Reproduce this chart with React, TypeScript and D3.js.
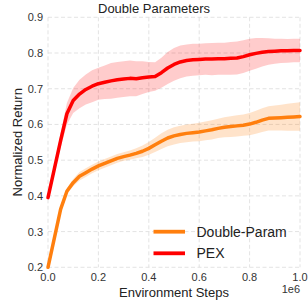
import * as d3 from 'd3';
import React from 'react';

// environment steps (x1e6), every 0.025
const steps = d3.range(0, 41).map((i) => i * 0.025);

const pexMean = [
  0.395, 0.475, 0.555, 0.63, 0.667, 0.685, 0.698, 0.707, 0.714, 0.718,
  0.722, 0.725, 0.727, 0.729, 0.728, 0.731, 0.733, 0.734, 0.745, 0.758,
  0.768, 0.775, 0.779, 0.781, 0.782, 0.783, 0.783, 0.784, 0.784, 0.785,
  0.786, 0.79, 0.795, 0.799, 0.802, 0.804, 0.805, 0.806, 0.806, 0.807, 0.807,
];
const pexStd = [
  0.005, 0.012, 0.02, 0.03, 0.035, 0.04, 0.042, 0.045, 0.045, 0.047,
  0.05, 0.05, 0.05, 0.05, 0.049, 0.046, 0.042, 0.04, 0.042, 0.045,
  0.046, 0.046, 0.045, 0.045, 0.044, 0.044, 0.045, 0.045, 0.045, 0.046,
  0.046, 0.046, 0.045, 0.043, 0.04, 0.037, 0.035, 0.034, 0.033, 0.033, 0.033,
];

const dpMean = [
  0.2, 0.281, 0.362, 0.413, 0.437, 0.455, 0.465, 0.475, 0.484, 0.491,
  0.498, 0.505, 0.51, 0.514, 0.519, 0.525, 0.533, 0.543, 0.553, 0.562,
  0.568, 0.572, 0.575, 0.577, 0.579, 0.582, 0.585, 0.589, 0.592, 0.594,
  0.596, 0.598, 0.601, 0.606, 0.612, 0.617, 0.618, 0.619, 0.62, 0.621, 0.622,
];
const dpStd = [
  0.002, 0.004, 0.006, 0.008, 0.01, 0.012, 0.012, 0.012, 0.012, 0.012,
  0.012, 0.012, 0.012, 0.013, 0.014, 0.016, 0.018, 0.02, 0.022, 0.023,
  0.024, 0.024, 0.025, 0.025, 0.026, 0.026, 0.027, 0.027, 0.028, 0.029,
  0.03, 0.03, 0.031, 0.032, 0.033, 0.034, 0.035, 0.036, 0.038, 0.039, 0.04,
];

const xTicks = [0, 0.2, 0.4, 0.6, 0.8, 1.0];
const yTicks = [0.2, 0.3, 0.4, 0.5, 0.6, 0.7, 0.8, 0.9];

const series = [
  { name: 'Double-Param', mean: dpMean, std: dpStd, line: '#ff7f0e', band: 'rgba(255,127,14,0.22)' },
  { name: 'PEX', mean: pexMean, std: pexStd, line: '#ff0000', band: 'rgba(255,0,0,0.2)' },
];

const width = 308;
const height = 300;
const margin = { top: 17.3, right: 8, bottom: 32.7, left: 48 };
const font = '"Liberation Sans", Arial, sans-serif';

function App(): any {
  const x = d3.scaleLinear().domain([0, 1]).range([margin.left, width - margin.right]);
  const y = d3.scaleLinear().domain([0.2, 0.9]).range([height - margin.bottom, margin.top]);

  const line = d3.line<number>()
    .x((_, i) => x(steps[i]))
    .y((d) => y(d));

  const area = (mean: number[], std: number[]) =>
    d3.area<number>()
      .x((_, i) => x(steps[i]))
      .y0((d, i) => y(d - std[i]))
      .y1((d, i) => y(d + std[i]))(mean) as string;

  return (
    <svg width={width} height={height} style={{ position: 'absolute', left: 0, top: 0, background: '#fff' }}>
      {/* grid */}
      <g stroke="#dcdcdc" strokeWidth={0.8} strokeDasharray="4,2.5">
        {xTicks.map((t) => (
          <line key={'gx' + t} x1={x(t)} x2={x(t)} y1={y(0.9)} y2={y(0.2)} />
        ))}
        {yTicks.map((t) => (
          <line key={'gy' + t} x1={x(0)} x2={x(1)} y1={y(t)} y2={y(t)} />
        ))}
      </g>

      {series.map((s) => (
        <path key={s.name + 'b'} d={area(s.mean, s.std)} fill={s.band} stroke="none" />
      ))}
      {series.map((s) => (
        <path key={s.name + 'l'} d={line(s.mean) as string} fill="none" stroke={s.line}
          strokeWidth={3.5} strokeLinejoin="round" strokeLinecap="round" />
      ))}

      {/* tick labels */}
      <g fontFamily={font} fontSize={11} fill="#333">
        {xTicks.map((t) => (
          <text key={'tx' + t} x={x(t)} y={281} textAnchor="middle">{t.toFixed(1)}</text>
        ))}
        {yTicks.map((t) => (
          <text key={'ty' + t} x={43} y={y(t) + 4} textAnchor="end">{t.toFixed(1)}</text>
        ))}
        <text x={300} y={293} textAnchor="end">1e6</text>
      </g>

      <g fontFamily={font} fill="#222">
        <text x={154} y={13} fontSize={13} textAnchor="middle">Double Parameters</text>
        <text x={174} y={296.5} fontSize={13} textAnchor="middle">Environment Steps</text>
        <text transform={`translate(22,${(y(0.2) + y(0.9)) / 2}) rotate(-90)`} fontSize={13} textAnchor="middle">Normalized Return</text>
      </g>

      {/* legend */}
      <g fontFamily={font} fontSize={14} fill="#222">
        {series.map((s, i) => (
          <g key={s.name + 'lg'} transform={`translate(0,${231.7 + i * 21.6})`}>
            <line x1={153.5} x2={185} y1={0} y2={0} stroke={s.line} strokeWidth={3.8} />
            <text x={196.5} y={5}>{s.name}</text>
          </g>
        ))}
      </g>
    </svg>
  );
}

export default App;
